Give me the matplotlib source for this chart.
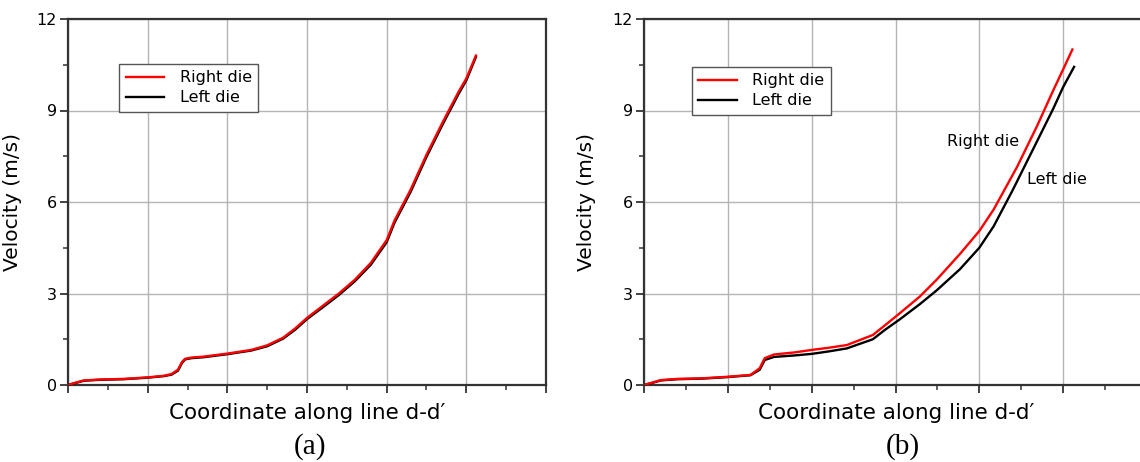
import matplotlib
matplotlib.use("Agg")
import matplotlib.pyplot as plt
from matplotlib.ticker import MultipleLocator, NullFormatter

plt.rcParams['font.family'] = ['DejaVu Sans']

# (a) velocity along line d-d' : right and left die almost identical
xa = [0, 0.1, 0.2, 0.4, 0.7, 1.0, 1.2, 1.3, 1.38, 1.43, 1.47, 1.55, 1.7, 2.0, 2.3,
      2.5, 2.7, 2.85, 3.0, 3.2, 3.4, 3.6, 3.8, 4.0, 4.1, 4.3, 4.5, 4.7, 4.9, 5.0, 5.12]
va_right = [0, 0.08, 0.15, 0.18, 0.2, 0.25, 0.3, 0.36, 0.5, 0.75, 0.86, 0.9, 0.93, 1.03, 1.15,
            1.3, 1.55, 1.85, 2.2, 2.6, 3.0, 3.45, 4.0, 4.75, 5.4, 6.4, 7.55, 8.6, 9.6, 10.05, 10.8]
va_left = [0, 0.07, 0.14, 0.17, 0.19, 0.24, 0.29, 0.34, 0.47, 0.72, 0.84, 0.88, 0.91, 1.01, 1.13,
           1.27, 1.52, 1.81, 2.16, 2.55, 2.95, 3.4, 3.94, 4.68, 5.33, 6.33, 7.48, 8.53, 9.53, 9.99, 10.75]

# (b) right die runs ahead of the left die
xb_right = [0, 0.1, 0.2, 0.4, 0.7, 1.0, 1.27, 1.38, 1.44, 1.55, 1.8, 2.0, 2.2, 2.42, 2.73,
            2.88, 3.05, 3.29, 3.49, 3.77, 4.0, 4.17, 4.45, 4.69, 4.88, 5.0, 5.11]
vb_right = [0, 0.08, 0.16, 0.2, 0.22, 0.27, 0.33, 0.55, 0.88, 1.0, 1.07, 1.15, 1.22, 1.31, 1.64,
            1.97, 2.35, 2.9, 3.45, 4.3, 5.05, 5.75, 7.15, 8.5, 9.65, 10.35, 11.0]
xb_left = [0, 0.1, 0.2, 0.4, 0.7, 1.0, 1.27, 1.38, 1.44, 1.55, 1.8, 2.0, 2.2, 2.42, 2.73,
           2.88, 3.05, 3.29, 3.49, 3.77, 4.0, 4.17, 4.4, 4.69, 4.88, 5.0, 5.13]
vb_left = [0, 0.07, 0.15, 0.19, 0.21, 0.26, 0.32, 0.5, 0.82, 0.92, 0.97, 1.02, 1.1, 1.2, 1.5,
           1.82, 2.15, 2.65, 3.1, 3.8, 4.5, 5.2, 6.4, 8.0, 9.05, 9.77, 10.43]

y_ticks = [0, 3, 6, 9, 12]

fig = plt.figure(figsize=(11.4, 4.62), dpi=100)
ax_a = fig.add_axes([68 / 1140, 77 / 462, 478 / 1140, 366 / 462])
ax_b = fig.add_axes([644 / 1140, 77 / 462, 503 / 1140, 366 / 462])


def style(ax):
    ax.set_xlim(0, 6)
    ax.set_ylim(0, 12)
    ax.xaxis.set_major_locator(MultipleLocator(1))
    ax.xaxis.set_minor_locator(MultipleLocator(0.5))
    ax.xaxis.set_major_formatter(NullFormatter())
    ax.set_yticks(y_ticks)
    ax.yaxis.set_minor_locator(MultipleLocator(1.5))
    ax.grid(True, which="major", color="#b4b4b4", linewidth=1.0)
    ax.set_axisbelow(True)
    for sp in ax.spines.values():
        sp.set_color("#333333")
        sp.set_linewidth(1.6)
    ax.tick_params(which="major", direction="out", length=6, width=1.3,
                   color="#333333", labelsize=11.5, pad=2)
    ax.tick_params(which="minor", direction="out", length=3.5, width=1.1, color="#333333")
    ax.set_ylabel("Velocity (m/s)", fontsize=14.5)
    ax.set_xlabel("Coordinate along line d-d′", fontsize=15.5, va="top")
    ax.xaxis.set_label_coords(0.5, -0.05)


for ax, xr, vr, xl, vl in [(ax_a, xa, va_right, xa, va_left),
                           (ax_b, xb_right, vb_right, xb_left, vb_left)]:
    style(ax)
    ax.plot(xl, vl, color="black", linewidth=1.7, label="Left die", zorder=3)
    ax.plot(xr, vr, color="#ff0000", linewidth=1.7, label="Right die", zorder=4)

ax_a.yaxis.set_label_coords(-0.096, 0.5)
ax_b.yaxis.set_label_coords(-0.095, 0.5)
ax_b.xaxis.set_label_coords(252 / 503, -0.05)

for ax, anchor in [(ax_a, (0.107, 0.877)), (ax_b, (0.095, 0.869))]:
    h, l = ax.get_legend_handles_labels()
    leg = ax.legend(h[::-1], l[::-1], loc="upper left", bbox_to_anchor=anchor,
                    borderaxespad=0, fancybox=False, fontsize=11.5, handlelength=2.4,
                    handletextpad=1.0, labelspacing=0.3, borderpad=0.4, framealpha=1)
    leg.get_frame().set_edgecolor("#555555")
    leg.get_frame().set_linewidth(1.0)

ax_b.text(3.62, 7.97, "Right die", fontsize=11.5, ha="left", va="center")
ax_b.text(4.57, 6.75, "Left die", fontsize=11.5, ha="left", va="center")

fig.text(310 / 1140, 1 - 447 / 462, "(a)", fontsize=21, family="Liberation Serif",
         ha="center", va="center")
fig.text(903 / 1140, 1 - 447 / 462, "(b)", fontsize=21, family="Liberation Serif",
         ha="center", va="center")

fig.savefig("out.png", dpi=100)
